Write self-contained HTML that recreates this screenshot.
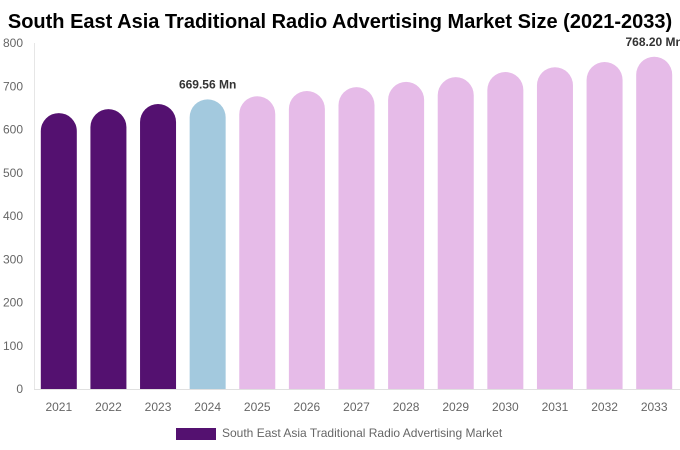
<!DOCTYPE html>
<html><head><meta charset="utf-8"><style>
body{margin:0;background:#fff;font-family:"Liberation Sans",Arial,sans-serif;}
svg{display:block}
</style></head><body>
<svg id="chart" width="680" height="450">
<text x="340" y="28" text-anchor="middle" font-size="20" font-weight="bold" fill="#000">South East Asia Traditional Radio Advertising Market Size (2021-2033)</text>
<g id="axes"></g><g id="bars"></g>
<g>
<rect x="176" y="428" width="40" height="12" fill="#541170"/>
<text x="222" y="437" font-size="12" fill="#666">South East Asia Traditional Radio Advertising Market</text>
</g>
</svg>
<script>
const years=["2021","2022","2023","2024","2025","2026","2027","2028","2029","2030","2031","2032","2033"];
const values=[638,647,659,669.56,677,689,698,710,721,733,744,756,768.2];
const colors=["#541170","#541170","#541170","#a3c9de","#e6bbe8","#e6bbe8","#e6bbe8","#e6bbe8","#e6bbe8","#e6bbe8","#e6bbe8","#e6bbe8","#e6bbe8"];
const yTicks=[0,100,200,300,400,500,600,700,800];
const labels={3:"669.56 Mn",12:"768.20 Mn"};
const NS="http://www.w3.org/2000/svg";
const x0=34,x1=679,yBase=389,yTop=43,yMax=800;
const band=(x1-x0)/years.length;
const y=v=>yBase-(v/yMax)*(yBase-yTop);
const xc=i=>x0+band*(i+0.5);
function mk(t,a,p){const e=document.createElementNS(NS,t);for(const k in a)e.setAttribute(k,a[k]);p.appendChild(e);return e;}
const ax=document.getElementById('axes'),bg=document.getElementById('bars');
let l=mk('line',{x1:x0,x2:680,y1:yBase+0.5,y2:yBase+0.5,stroke:'#e0e0e0'},ax);


l=mk('line',{x1:x0+0.5,x2:x0+0.5,y1:yTop,y2:yBase,stroke:'#e6e6e6'},ax);


yTicks.forEach(t=>{const e=mk('text',{x:23,y:y(t)+4,'text-anchor':'end','font-size':12,fill:'#666'},ax);e.textContent=t;

});
const w=36,r=18;
years.forEach((yr,i)=>{
 const cx=xc(i),top=y(values[i]),L=cx-w/2,R=cx+w/2;
 const p=mk('path',{d:`M${L},${yBase} L${L},${top+r} A${r},${r} 0 0 1 ${R},${top+r} L${R},${yBase} Z`,fill:colors[i]},bg);
 
 
 const t=mk('text',{x:cx,y:411,'text-anchor':'middle','font-size':12,fill:'#666'},ax);t.textContent=yr;
 
 
 if(labels[i]){const v=mk('text',{x:cx,y:top-11,'text-anchor':'middle','font-size':12,'font-weight':'bold',fill:'#333'},bg);v.textContent=labels[i];
 
 }
});
</script>
</body></html>
